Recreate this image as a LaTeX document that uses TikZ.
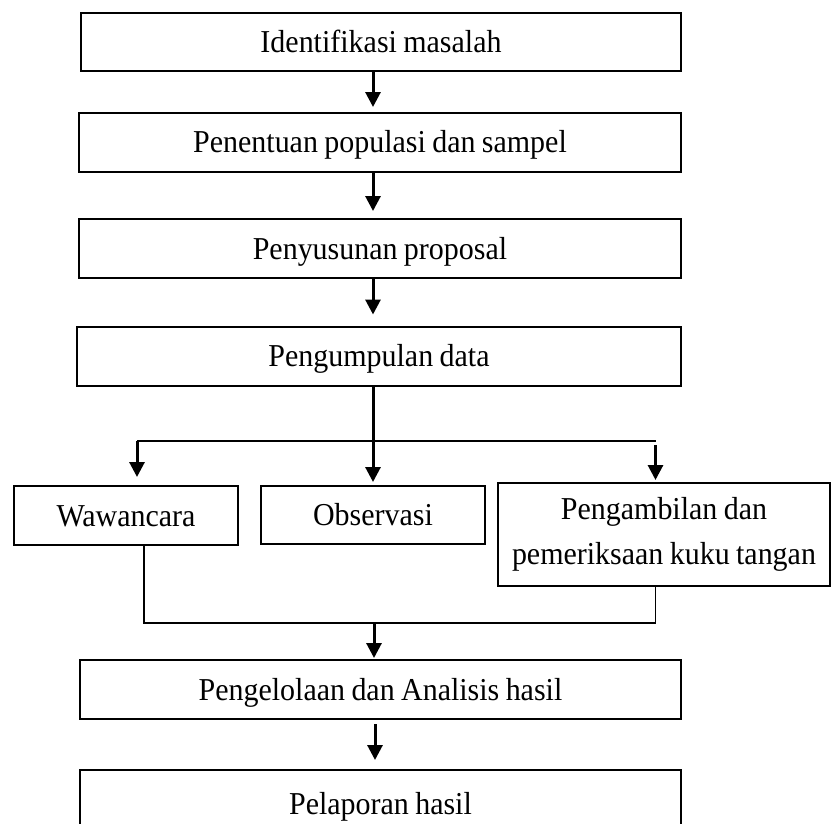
\documentclass[tikz,border=0pt]{standalone}
\usepackage{fontspec}
\setmainfont{Liberation Serif}[FakeStretch=0.94, WordSpace=0.85]
\usetikzlibrary{arrows.meta,calc}
\begin{document}
\begin{tikzpicture}[x=1bp,y=-1bp,
  box/.style={draw, line width=2bp, inner sep=0pt, font=\fontsize{32}{45}\selectfont, align=center},
  onel/.style={text height=21bp, text depth=0pt},
  arr/.style={line width=3bp, -{Triangle[length=15bp,width=15bp]}},
  link/.style={line width=1.4bp}]
\useasboundingbox (0,0) rectangle (831,824);
\clip (0,0) rectangle (831,824);

% main column boxes
\node[box, onel, minimum width=600bp, minimum height=58bp] (b1) at (381,42) {Identifikasi masalah};
\node[box, onel, minimum width=602bp, minimum height=59bp] (b2) at (380,142) {Penentuan populasi dan sampel};
\node[box, onel, minimum width=602bp, minimum height=59bp] (b3) at (380,248.5) {Penyusunan proposal};
\node[box, onel, minimum width=604bp, minimum height=59bp] (b4) at (379,356) {Pengumpulan data};

% data collection methods
\node[box, onel, minimum width=224bp, minimum height=59bp] (w) at (126,515.5) {Wawancara};
\node[box, onel, minimum width=224bp, minimum height=58bp] (o) at (373,515) {Observasi};
\node[box, minimum width=332bp, minimum height=103bp] (p) at (664,534.5) {Pengambilan dan\\pemeriksaan kuku tangan};

% later steps
\node[box, onel, minimum width=601bp, minimum height=59bp] (e) at (380.5,689.5) {Pengelolaan dan Analisis hasil};
\node[box, onel, minimum width=601bp, minimum height=68bp] (r) at (380.5,804) {Pelaporan hasil};

% helper coordinates
\coordinate (ax) at (373,0);
\coordinate (hl) at (137,441);
\coordinate (hr) at (655.5,441);
\coordinate (jl) at (144,623);
\coordinate (jr) at (655.5,623);
\coordinate (jm) at (374,623);
\coordinate (ax2) at (375,0);

% arrows of the main column
\draw[arr, shorten >=4.5bp] (b1.south -| ax) -- (b2.north -| ax);
\draw[arr, shorten >=7bp] (b2.south -| ax) -- (b3.north -| ax);
\draw[arr, shorten >=11bp] (b3.south -| ax) -- (b4.north -| ax);

% split to the three methods
\draw[link] (hl) -- (hr);
\draw[arr, shorten >=3bp] (b4.south -| o.north) -- (o.north);
\draw[arr, shorten >=8bp] (hl) -- (w.north -| hl);
\draw[arr, shorten >=2bp, shorten <=4bp] (hr) -- (p.north -| hr);

% join back
\draw[link] (w.south -| jl) -- (jl) -- (jr) -- (p.south -| jr);
\draw[arr, shorten >=1bp] (jm) -- (e.north -| jm);
\draw[arr, shorten <=4bp, shorten >=9bp] (e.south -| ax2) -- (r.north -| ax2);
\end{tikzpicture}
\end{document}
